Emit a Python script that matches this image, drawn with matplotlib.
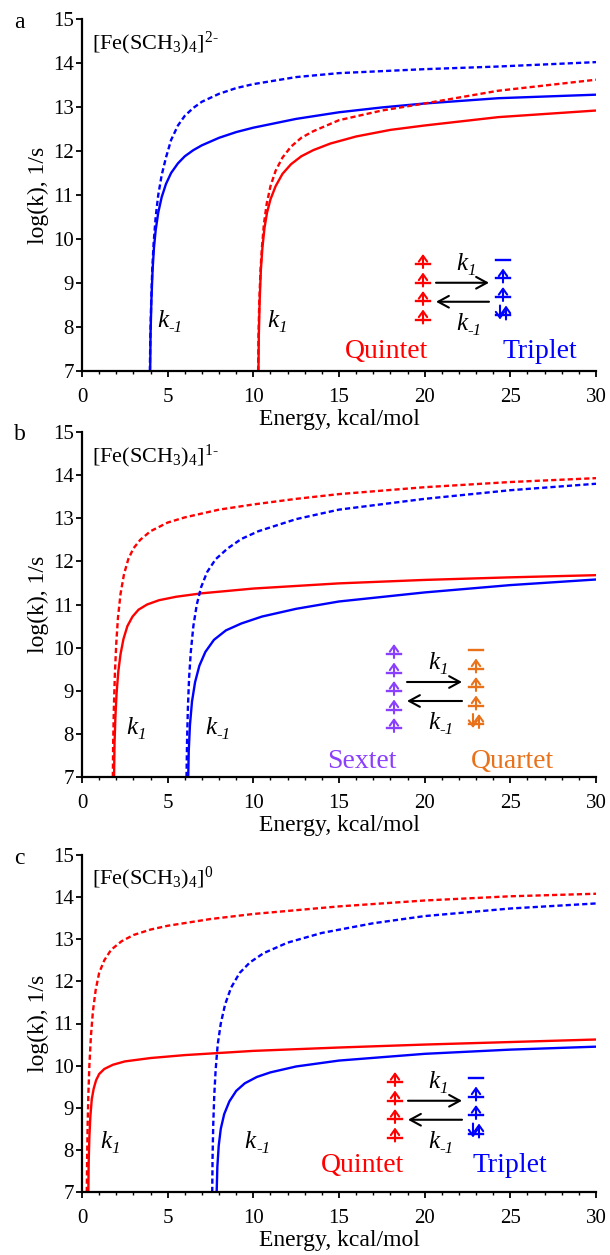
import matplotlib
matplotlib.use("Agg")
import matplotlib.pyplot as plt
from matplotlib.lines import Line2D
from matplotlib.patches import FancyArrowPatch
from matplotlib.ticker import MultipleLocator

plt.rcParams['font.family'] = ['Liberation Serif', 'DejaVu Serif']
plt.rcParams['mathtext.fontset'] = 'custom'
plt.rcParams['mathtext.rm'] = 'Liberation Serif'
plt.rcParams['mathtext.it'] = 'Liberation Serif:italic'
plt.rcParams['mathtext.bf'] = 'Liberation Serif:bold'

RED = '#ff0000'
BLUE = '#0000ff'
PURPLE = '#8a3ffc'
ORANGE = '#e8711a'

# ---- data (energy in kcal/mol, log k) ----
# panel a
a_blue_dash_E = [3.96, 3.99, 4.04, 4.1, 4.18, 4.3, 4.45, 4.65, 4.9, 5.2, 5.6, 6.0, 6.5, 7.0, 8.0, 9.0, 10.0,
                 12.5, 15.0, 20.0, 24.3, 30.0]
a_blue_dash_k = [7.0, 7.8, 8.6, 9.3, 9.9, 10.5, 11.0, 11.45, 11.85, 12.25, 12.58, 12.8, 12.98, 13.12, 13.3, 13.43,
                 13.52, 13.68, 13.77, 13.86, 13.92, 14.02]
a_blue_sol_E = [3.98, 4.0, 4.05, 4.12, 4.2, 4.3, 4.45, 4.65, 4.9, 5.2, 5.6, 6.0, 6.5, 7.0, 8.0, 9.0, 10.0,
                12.5, 15.0, 17.5, 20.0, 24.3, 30.0]
a_blue_sol_k = [7.0, 7.8, 8.6, 9.3, 9.8, 10.2, 10.6, 10.95, 11.25, 11.5, 11.72, 11.88, 12.02, 12.13, 12.3, 12.43,
                12.53, 12.73, 12.88, 12.99, 13.08, 13.2, 13.28]
a_red_dash_E = [10.28, 10.3, 10.35, 10.42, 10.5, 10.62, 10.78, 11.0, 11.3, 11.7, 12.2, 12.8, 13.5, 15.0, 17.5,
                20.0, 24.3, 30.0]
a_red_dash_k = [7.0, 7.8, 8.6, 9.3, 9.8, 10.35, 10.8, 11.2, 11.55, 11.85, 12.1, 12.3, 12.45, 12.7, 12.92,
                13.08, 13.37, 13.62]
a_red_sol_E = [10.3, 10.32, 10.37, 10.44, 10.53, 10.65, 10.8, 11.0, 11.3, 11.7, 12.2, 12.8, 13.5, 14.5, 16.0,
               18.0, 20.0, 24.3, 30.0]
a_red_sol_k = [7.0, 7.8, 8.6, 9.3, 9.8, 10.25, 10.6, 10.9, 11.2, 11.48, 11.7, 11.88, 12.02, 12.17, 12.33,
               12.48, 12.58, 12.77, 12.92]

# panel b
b_red_dash_E = [1.8, 1.82, 1.86, 1.92, 2.0, 2.1, 2.25, 2.45, 2.7, 3.0, 3.4, 4.0, 5.0, 6.0, 8.0, 10.0, 12.5,
                15.0, 20.0, 25.0, 30.0]
b_red_dash_k = [7.0, 7.8, 8.6, 9.4, 10.1, 10.7, 11.25, 11.7, 12.05, 12.3, 12.5, 12.7, 12.9, 13.02, 13.2, 13.32,
                13.45, 13.56, 13.72, 13.84, 13.93]
b_red_sol_E = [1.87, 1.9, 1.95, 2.02, 2.12, 2.25, 2.42, 2.65, 2.95, 3.3, 3.8, 4.5, 5.5, 7.0, 10.0, 15.0, 20.0,
               25.0, 30.0]
b_red_sol_k = [7.0, 7.8, 8.4, 8.95, 9.45, 9.85, 10.2, 10.5, 10.72, 10.88, 11.0, 11.1, 11.18, 11.26, 11.37, 11.49,
               11.57, 11.63, 11.68]
b_blue_dash_E = [6.1, 6.13, 6.18, 6.25, 6.35, 6.5, 6.7, 6.95, 7.3, 7.8, 8.5, 9.3, 10.3, 12.5, 15.0, 20.0, 25.0,
                 30.0]
b_blue_dash_k = [7.0, 7.8, 8.6, 9.3, 9.9, 10.5, 11.0, 11.4, 11.75, 12.05, 12.3, 12.52, 12.7, 12.98, 13.2, 13.45,
                 13.65, 13.8]
b_blue_sol_E = [6.2, 6.23, 6.3, 6.42, 6.6, 6.85, 7.2, 7.7, 8.4, 9.3, 10.5, 12.5, 15.0, 20.0, 25.0, 30.0]
b_blue_sol_k = [7.0, 7.6, 8.2, 8.75, 9.2, 9.58, 9.9, 10.18, 10.4, 10.56, 10.72, 10.9, 11.07, 11.28, 11.45, 11.58]

# panel c
c_red_dash_E = [0.28, 0.3, 0.33, 0.37, 0.43, 0.52, 0.64, 0.8, 1.0, 1.3, 1.7, 2.3, 3.0, 4.0, 5.0, 7.5, 10.0,
                15.0, 20.0, 25.0, 30.0]
c_red_dash_k = [7.0, 7.8, 8.6, 9.3, 10.0, 10.7, 11.3, 11.8, 12.2, 12.5, 12.75, 12.95, 13.1, 13.23, 13.32, 13.48,
                13.6, 13.78, 13.92, 14.02, 14.08]
c_red_sol_E = [0.37, 0.39, 0.43, 0.49, 0.57, 0.68, 0.82, 1.0, 1.3, 1.8, 2.5, 4.0, 6.0, 10.0, 15.0, 20.0, 25.0,
               30.0]
c_red_sol_k = [7.0, 7.7, 8.3, 8.8, 9.2, 9.45, 9.65, 9.8, 9.92, 10.02, 10.1, 10.18, 10.25, 10.35, 10.43, 10.5,
               10.56, 10.62]
c_blue_dash_E = [7.6, 7.62, 7.66, 7.72, 7.8, 7.92, 8.1, 8.35, 8.7, 9.2, 9.8, 10.6, 12.0, 14.0, 17.0, 20.0, 25.0,
                 30.0]
c_blue_dash_k = [7.0, 7.8, 8.6, 9.3, 9.9, 10.5, 11.0, 11.45, 11.85, 12.2, 12.45, 12.67, 12.92, 13.15, 13.38,
                 13.55, 13.73, 13.85]
c_blue_sol_E = [7.86, 7.9, 7.98, 8.1, 8.3, 8.6, 9.0, 9.5, 10.2, 11.0, 12.5, 15.0, 20.0, 25.0, 30.0]
c_blue_sol_k = [7.0, 7.6, 8.1, 8.5, 8.85, 9.15, 9.4, 9.58, 9.73, 9.84, 9.98, 10.12, 10.28, 10.38, 10.45]

panel_letters = ['a', 'b', 'c']
titles = [r'[Fe(SCH$_3$)$_4$]$^{2\text{-}}$', r'[Fe(SCH$_3$)$_4$]$^{1\text{-}}$', r'[Fe(SCH$_3$)$_4$]$^{0}$']

W, H = 610, 1255
fig = plt.figure(figsize=(W / 100, H / 100), dpi=100)


def fx(x):
    return x / W


def fy(y):
    return 1 - y / H


def make_axes(top, bottom, letter, title):
    ax = fig.add_axes([fx(82), fy(bottom), fx(596) - fx(82), fy(top) - fy(bottom)])
    ax.set_xlim(0, 30)
    ax.set_ylim(7, 15)
    ax.spines['top'].set_visible(False)
    ax.spines['right'].set_visible(False)
    ax.spines['left'].set_linewidth(1.6)
    ax.spines['bottom'].set_linewidth(1.6)
    ax.xaxis.set_major_locator(MultipleLocator(5))
    ax.xaxis.set_minor_locator(MultipleLocator(1))
    ax.yaxis.set_major_locator(MultipleLocator(1))
    ax.tick_params(which='major', direction='out', length=4, width=1.3, labelsize=15)
    ax.tick_params(which='minor', direction='out', length=2.5, width=1.0)
    ax.tick_params(axis='x', which='major', pad=8)
    ax.tick_params(axis='y', which='major', pad=2)
    ax.set_xlabel('Energy, kcal/mol', fontsize=17, labelpad=2)
    ax.set_ylabel('log(k), 1/s', fontsize=17, labelpad=3)
    ax.text(0.02, 0.93, title, transform=ax.transAxes, fontsize=16, va='center', ha='left')
    fig.text(fx(14), fy(top + 3), letter, fontsize=17, va='center')
    return ax


def curve(ax, E, k, color, dashed):
    ls = (0, (2.2, 1.3)) if dashed else '-'
    ax.plot(E, k, color=color, lw=1.7, ls=ls, solid_capstyle='butt')


def klabel(ax, x, y, sub, size, coords):
    # italic k with italic subscript
    ax.annotate('k', (x, y), xycoords=coords, fontsize=size, style='italic', ha='left', va='baseline',
                annotation_clip=False)
    ax.annotate(sub, (x, y), xycoords=coords, xytext=(size * 0.45, -size * 0.22), textcoords='offset points',
                fontsize=size * 0.68, style='italic', ha='left', va='baseline', annotation_clip=False)


def spin_arrow(x, y0, y1, color):
    fig.add_artist(FancyArrowPatch((fx(x), fy(y0)), (fx(x), fy(y1)), transform=fig.transFigure,
                                   arrowstyle='->,head_length=0.35,head_width=0.25', mutation_scale=12,
                                   color=color, lw=1.5, shrinkA=0, shrinkB=0))


def level(x, y, color, kind):
    fig.add_artist(Line2D([fx(x - 7), fx(x + 7)], [fy(y), fy(y)], color=color, lw=1.7))
    if kind == 'up':
        spin_arrow(x, y + 4, y - 10, color)
    elif kind == 'pair':
        spin_arrow(x + 3, y + 4, y - 10, color)
        spin_arrow(x - 3, y - 10, y + 4, color)


def scheme(ax, xl, xr, ytop, col_l, col_r, left_levels, right_levels, name_l, name_r, ylab, xname_l, xname_r):
    step = 18.5
    for i, kind in enumerate(left_levels):
        level(xl, ytop + i * step, col_l, kind)
    for i, kind in enumerate(right_levels):
        level(xr, ytop - 4 + i * step, col_r, kind)
    yarr = ytop + (len(left_levels) - 1) * step / 2
    arr = dict(arrowstyle='->,head_length=0.55,head_width=0.3', mutation_scale=14, color='black', lw=1.5,
               shrinkA=0, shrinkB=0)
    fig.add_artist(FancyArrowPatch((fx(xl + 13), fy(yarr - 9)), (fx(xr - 14), fy(yarr - 9)),
                                   transform=fig.transFigure, **arr))
    fig.add_artist(FancyArrowPatch((fx(xr - 14), fy(yarr + 10)), (fx(xl + 13), fy(yarr + 10)),
                                   transform=fig.transFigure, **arr))
    xm = (xl + xr) / 2 - 7
    klabel(ax, fx(xm), fy(yarr - 22), '1', 18, 'figure fraction')
    klabel(ax, fx(xm), fy(yarr + 38), '-1', 18, 'figure fraction')
    fig.text(fx(xname_l), fy(ylab), name_l, fontsize=20, color=col_l, ha='center', va='center')
    fig.text(fx(xname_r), fy(ylab), name_r, fontsize=20, color=col_r, ha='center', va='center')


# panel a
ax1 = make_axes(19, 371, panel_letters[0], titles[0])
curve(ax1, a_blue_dash_E, a_blue_dash_k, BLUE, True)
curve(ax1, a_blue_sol_E, a_blue_sol_k, BLUE, False)
curve(ax1, a_red_dash_E, a_red_dash_k, RED, True)
curve(ax1, a_red_sol_E, a_red_sol_k, RED, False)
klabel(ax1, 4.4, 8.0, '-1', 18, 'data')
klabel(ax1, 10.8, 8.0, '1', 18, 'data')
scheme(ax1, 423, 503, 264, RED, BLUE, ['up'] * 4, ['none', 'up', 'up', 'pair'],
       'Quintet', 'Triplet', 352, 387, 540)

# panel b
ax2 = make_axes(432, 777, panel_letters[1], titles[1])
curve(ax2, b_red_dash_E, b_red_dash_k, RED, True)
curve(ax2, b_red_sol_E, b_red_sol_k, RED, False)
curve(ax2, b_blue_dash_E, b_blue_dash_k, BLUE, True)
curve(ax2, b_blue_sol_E, b_blue_sol_k, BLUE, False)
klabel(ax2, 2.6, 8.0, '1', 18, 'data')
klabel(ax2, 7.2, 8.0, '-1', 18, 'data')
scheme(ax2, 394, 476, 654, PURPLE, ORANGE, ['up'] * 5, ['none', 'up', 'up', 'up', 'pair'],
       'Sextet', 'Quartet', 762, 362, 512)

# panel c
ax3 = make_axes(855, 1192, panel_letters[2], titles[2])
curve(ax3, c_red_dash_E, c_red_dash_k, RED, True)
curve(ax3, c_red_sol_E, c_red_sol_k, RED, False)
curve(ax3, c_blue_dash_E, c_blue_dash_k, BLUE, True)
curve(ax3, c_blue_sol_E, c_blue_sol_k, BLUE, False)
klabel(ax3, 1.05, 8.05, '1', 18, 'data')
klabel(ax3, 9.5, 8.05, '-1', 18, 'data')
scheme(ax3, 395, 476, 1082, RED, BLUE, ['up'] * 4, ['none', 'up', 'up', 'pair'],
       'Quintet', 'Triplet', 1166, 363, 510)

fig.savefig('out.png', dpi=100)
